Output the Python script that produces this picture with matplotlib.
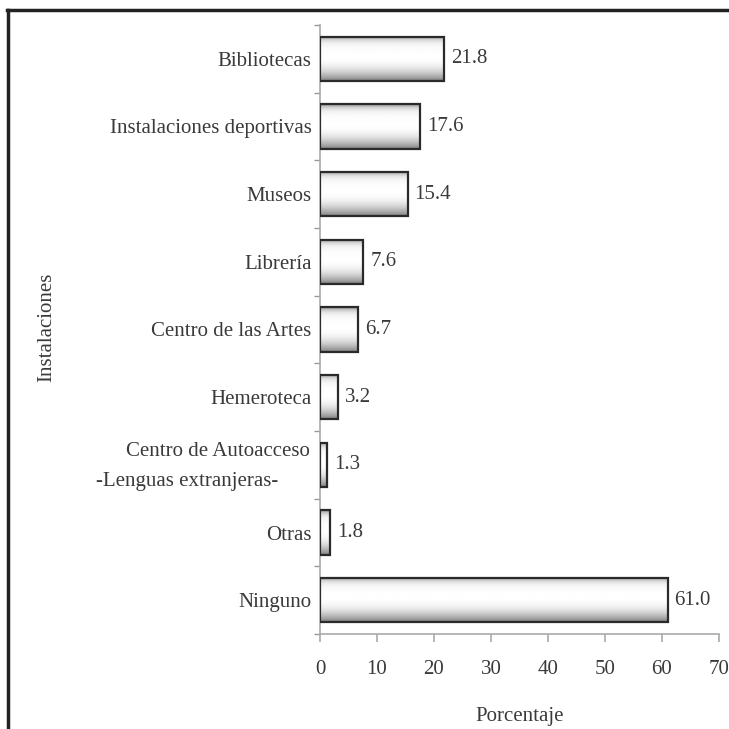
import numpy as np
import matplotlib
matplotlib.use("Agg")
import matplotlib.pyplot as plt
from matplotlib.lines import Line2D
import matplotlib.transforms as mtransforms

categories = ["Bibliotecas", "Instalaciones deportivas", "Museos", "Librería",
              "Centro de las Artes", "Hemeroteca",
              "Centro de Autoacceso\n-Lenguas extranjeras-", "Otras", "Ninguno"]
values = [21.8, 17.6, 15.4, 7.6, 6.7, 3.2, 1.3, 1.8, 61.0]
value_labels = ["21.8", "17.6", "15.4", "7.6", "6.7", "3.2", "1.3", "1.8", "61.0"]
xticks = [0, 10, 20, 30, 40, 50, 60, 70]

plt.rcParams['font.family'] = ['Liberation Serif', 'DejaVu Serif']
txt = '#3a3a3a'
fs = 15

fig = plt.figure(figsize=(7.29, 7.29), dpi=100)
ax = fig.add_axes([320/729, 1-634/729, (719-320)/729, (634-25)/729])

n = len(categories)
ypos = np.arange(n)
h = 0.66

# vertical gradient profile (top -> bottom)
t = np.linspace(0, 1, 64)
prof = 1 - 0.45*np.exp(-t/0.08) - 0.5*np.clip((t-0.45)/0.55, 0, 1)**2.2
prof = np.clip(prof, 0, 1)
grad = np.repeat(prof[:, None], 2, axis=1)

for y, v in zip(ypos, values):
    ax.imshow(grad, cmap='gray', vmin=0, vmax=1, aspect='auto',
              extent=(0, v, y + h/2, y - h/2), origin='upper', zorder=2,
              interpolation='bilinear')
bars = ax.barh(ypos, values, height=h, facecolor='none', edgecolor='#2a2a2a',
               linewidth=1.6, zorder=3)

for y, v, lab in zip(ypos, values, value_labels):
    ax.text(v + 1.2, y, lab, va='center', ha='left', fontsize=fs, color=txt)

ax.set_xlim(0, 70)
ax.set_ylim(n - 0.5, -0.5)
ax.set_xticks(xticks)
ax.set_xticklabels([str(x) for x in xticks], fontsize=fs, color=txt)
ax.set_yticks(ypos)
ax.set_yticklabels(['' if '\n' in c else c for c in categories], fontsize=fs, color=txt)
ax.set_yticks(np.arange(-0.5, n, 1), minor=True)
ax.tick_params(axis='y', which='major', length=0, pad=6)
ax.tick_params(axis='y', which='minor', length=4, color='#999999', width=1)
ax.tick_params(axis='x', which='major', length=6, color='#aaaaaa', width=1.2, pad=13)

# two-line category label placed as in the original
blend = mtransforms.blended_transform_factory(ax.transAxes, ax.transData)
for i, c in enumerate(categories):
    if '\n' in c:
        l1, l2 = c.split('\n')
        t1 = mtransforms.offset_copy(blend, fig=fig, x=-10, y=0, units='dots')
        t2 = mtransforms.offset_copy(blend, fig=fig, x=-42, y=0, units='dots')
        ax.text(0, i - 0.19, l1, transform=t1, ha='right', va='center',
                fontsize=fs, color=txt)
        ax.text(0, i + 0.24, l2, transform=t2, ha='right', va='center',
                fontsize=fs, color=txt)

for s in ['top', 'right']:
    ax.spines[s].set_visible(False)
for s in ['left', 'bottom']:
    ax.spines[s].set_color('#aaaaaa')
    ax.spines[s].set_linewidth(1.2)

ax.set_xlabel("Porcentaje", fontsize=fs, color=txt, labelpad=20)
fig.text(47/729, 1-327/729, "Instalaciones", rotation=90, fontsize=fs,
         color=txt, ha='center', va='center')

# frame lines (top and left)
fig.add_artist(Line2D([7/729, 1], [1-10/729, 1-10/729], color='#222222', lw=2.5,
                      transform=fig.transFigure))
fig.add_artist(Line2D([8/729, 8/729], [0, 1-10/729], color='#222222', lw=2.5,
                      transform=fig.transFigure))

fig.savefig("out.png", dpi=100)
